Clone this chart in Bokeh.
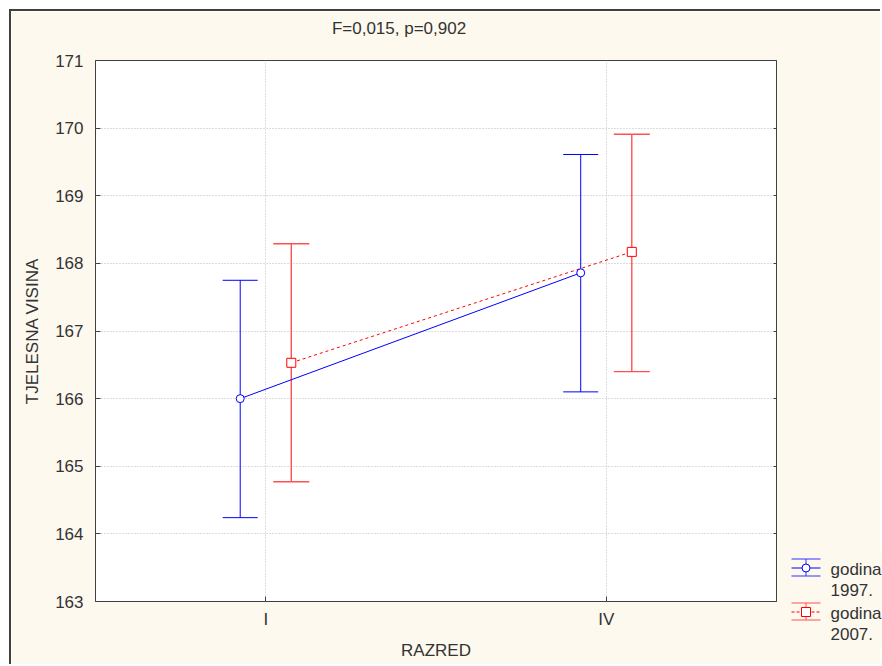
from bokeh.plotting import figure
from bokeh.models import (ColumnDataSource, FactorRange, Range1d, Whisker, TeeHead,
                          FixedTicker, LinearAxis)
from bokeh.core.properties import value
from bokeh.transform import dodge
from bokeh.embed import file_html
from bokeh.resources import INLINE

# ---- data ----
categories = ["I", "IV"]
mean_1997 = [166.00, 167.86]
upper_1997 = [167.75, 169.61]
lower_1997 = [164.24, 166.10]
mean_2007 = [166.53, 168.17]
upper_2007 = [168.29, 169.91]
lower_2007 = [164.77, 166.40]
y_ticks = [163, 164, 165, 166, 167, 168, 169, 170, 171]
title_text = "F=0,015, p=0,902"
x_label = "RAZRED"
y_label = "TJELESNA VISINA"
legend_line1 = ["godina", "godina"]
legend_line2 = ["1997.", "2007."]

FONT = "Liberation Sans"
TXT = "#333333"
BLUE = "#0000FF"
RED = "#FF0000"
RED_BAR = "#FF5050"
CREAM = "#FDF9EE"

src97 = ColumnDataSource(dict(cat=categories, mean=mean_1997, upper=upper_1997, lower=lower_1997))
src07 = ColumnDataSource(dict(cat=categories, mean=mean_2007, upper=upper_2007, lower=lower_2007))

p = figure(width=871, height=655, output_backend="svg", toolbar_location=None,
           x_range=FactorRange(factors=categories, range_padding=0),
           y_range=Range1d(163, 171),
           min_border_left=84, min_border_right=106, min_border_top=49, min_border_bottom=65)
p.styles = {"margin-left": "9px", "margin-top": "9px",
            "border-top": "2px solid #404040", "border-left": "2px solid #404040"}

p.background_fill_color = "white"
p.border_fill_color = CREAM
p.outline_line_color = "#404040"
p.outline_line_width = 1

off = 0.075
xb = dodge("cat", -off, range=p.x_range)
xr = dodge("cat", off, range=p.x_range)

# error bars
wb = Whisker(source=src97, base=xb, upper="upper", lower="lower", dimension="height",
             line_color=BLUE, line_width=1,
             upper_head=TeeHead(size=35, line_color=BLUE, line_width=1),
             lower_head=TeeHead(size=35, line_color=BLUE, line_width=1))
wr = Whisker(source=src07, base=xr, upper="upper", lower="lower", dimension="height",
             line_color=RED_BAR, line_width=1.4,
             upper_head=TeeHead(size=36, line_color=RED_BAR, line_width=1.4),
             lower_head=TeeHead(size=36, line_color=RED_BAR, line_width=1.4))
p.add_layout(wb)
p.add_layout(wr)

p.line(x=xb, y="mean", source=src97, line_color=BLUE, line_width=1)
p.line(x=xr, y="mean", source=src07, line_color=RED, line_width=1, line_dash="3 3")
p.scatter(x=xb, y="mean", source=src97, marker="circle", size=8,
          line_color=BLUE, fill_color="white", line_width=1)
p.scatter(x=xr, y="mean", source=src07, marker="square", size=9,
          line_color=RED, fill_color="white", line_width=1)

# axes
for ax in (p.xaxis[0], p.yaxis[0]):
    ax.axis_line_color = None
    ax.major_tick_in = 5
    ax.major_tick_out = 0
    ax.minor_tick_line_color = None
    ax.major_tick_line_color = "#404040"
    ax.major_label_text_font = FONT
    ax.major_label_text_font_size = "17px"
    ax.major_label_text_color = TXT
    ax.axis_label_text_font = FONT
    ax.axis_label_text_font_size = "17px"
    ax.axis_label_text_font_style = "normal"
    ax.axis_label_text_color = TXT

p.yaxis.ticker = FixedTicker(ticks=y_ticks)
p.yaxis.axis_label = y_label
p.yaxis.major_label_standoff = 12
p.yaxis.axis_label_standoff = 10
p.xaxis.axis_label = x_label
p.xaxis.major_label_standoff = 8
p.xaxis.axis_label_standoff = 9

ry = LinearAxis(ticker=FixedTicker(ticks=y_ticks), axis_line_color=None,
                major_tick_in=3, major_tick_out=0, minor_tick_line_color=None,
                major_label_overrides={t: "" for t in y_ticks},
                major_tick_line_color="#404040")
p.add_layout(ry, "right")

p.xgrid.grid_line_color = "#BBBBBB"
p.xgrid.grid_line_dash = "1 2"
p.ygrid.grid_line_color = "#BBBBBB"
p.ygrid.grid_line_dash = "1 2"
p.ygrid.ticker = FixedTicker(ticks=y_ticks)


def overlay(w, h, left, top):
    f = figure(width=w, height=h, output_backend="svg", toolbar_location=None,
               x_range=Range1d(0, w), y_range=Range1d(h, 0), min_border=0)
    f.styles = {"position": "absolute", "left": f"{left}px", "top": f"{top}px"}
    f.axis.visible = False
    f.grid.visible = False
    f.outline_line_color = None
    f.background_fill_color = CREAM
    f.border_fill_color = CREAM
    return f


# ---- title (small canvas over the top margin) ----
ttl = overlay(200, 30, 298, 13)
ttl.text(x=[100.5], y=[15], text=[title_text], text_font=value(FONT), text_font_size="17px",
         text_color=TXT, text_baseline="middle", text_align="center")

# ---- legend (small canvas over the right margin) ----
leg = overlay(94, 95, 788, 552)
item_top = [0, 44]        # pixel offsets of the two legend items
gx0, gx1, gxc = 3, 32, 17.5
for k, (col, bar, dash, mk, sz) in enumerate([(BLUE, "#3030FF", "solid", "circle", 8),
                                             (RED, RED_BAR, "3 2", "square", 9)]):
    t = item_top[k]
    leg.segment(x0=[gx0, gx0], y0=[t + 6.5, t + 23.5], x1=[gx1, gx1], y1=[t + 6.5, t + 23.5],
                line_color=bar, line_width=1)
    leg.segment(x0=[gxc], y0=[t + 6.5], x1=[gxc], y1=[t + 23.5], line_color=bar, line_width=1)
    leg.segment(x0=[gx0], y0=[t + 15.5], x1=[gx1], y1=[t + 15.5], line_color=col,
                line_width=1, line_dash=dash)
    leg.scatter(x=[gxc], y=[t + 15.5], marker=mk, size=sz, line_color=col, fill_color="white")
    leg.text(x=[42, 42], y=[t + 16.5, t + 37], text=[legend_line1[k], legend_line2[k]],
             text_font=value(FONT), text_font_size="17px", text_color=TXT,
             text_baseline="alphabetic", text_align="left")

open("out.html", "w").write(file_html([p, ttl, leg], INLINE))
